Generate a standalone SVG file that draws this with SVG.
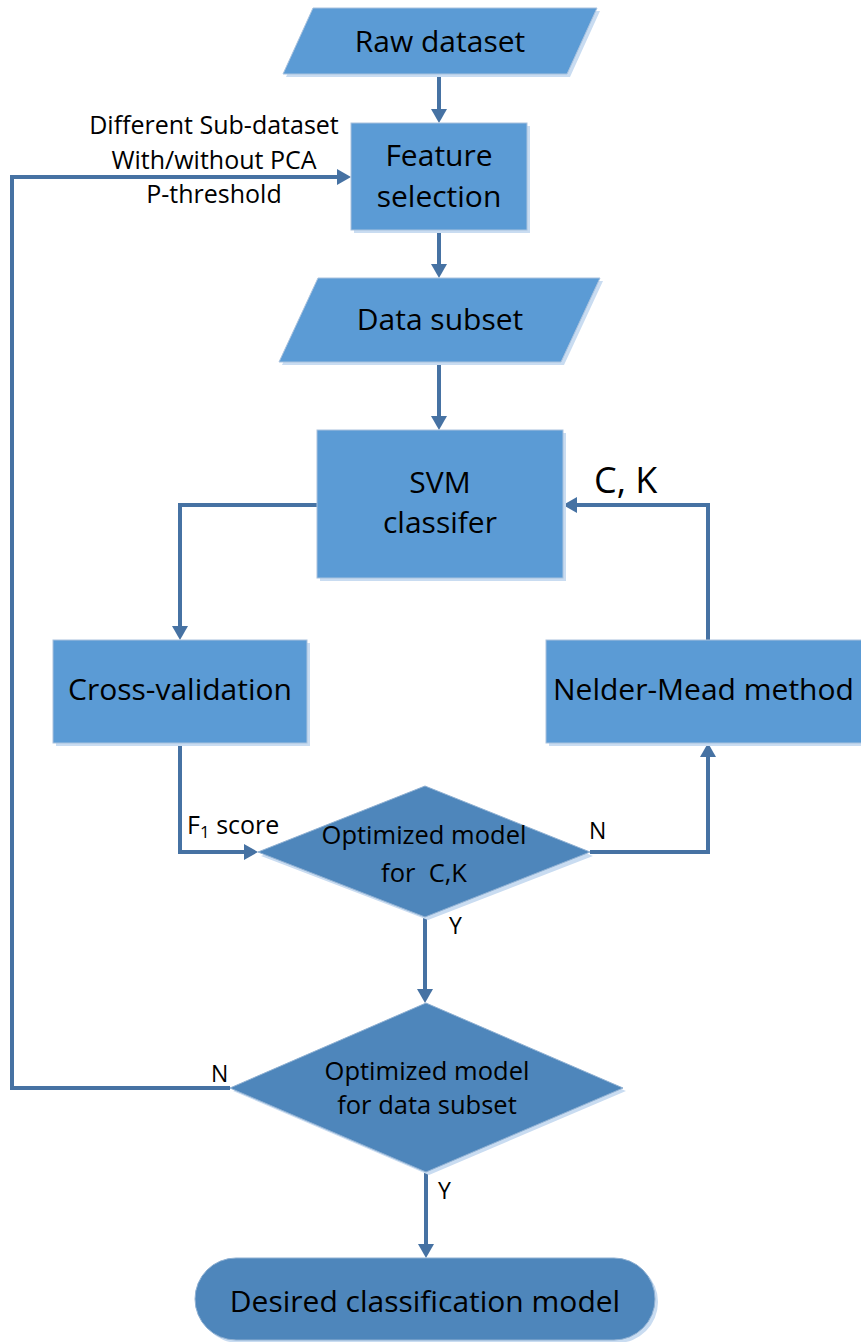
<svg xmlns="http://www.w3.org/2000/svg" width="861" height="1342" viewBox="0 0 861 1342">
<style>
.box{fill:#5B9BD5;stroke:#A9C2DE;stroke-width:1}
.dec{fill:#4E86BB;stroke:#8FB0D2;stroke-width:1}
.sh{fill:#C9DCF1}
.t{font-family:"Open Sans","Liberation Sans",sans-serif;font-size:30px;fill:#000}
.m{text-anchor:middle}
.s{font-family:"Open Sans","Liberation Sans",sans-serif;font-size:25px;fill:#000}
.d{font-family:"Open Sans","Liberation Sans",sans-serif;font-size:25.5px;fill:#000;text-anchor:middle;white-space:pre}
.c{fill:none;stroke:#4672A3;stroke-width:4}
</style>
<defs>
<marker id="ah" viewBox="0 0 14 16" refX="0" refY="8" markerWidth="14" markerHeight="16" markerUnits="userSpaceOnUse" orient="auto">
<path d="M0,0 L14,8 L0,16 z" fill="#4672A3"/>
</marker>
</defs>
<g id="connectors">
<path class="c" d="M439,74 V109" marker-end="url(#ah)"/>
<path class="c" d="M439,230 V264" marker-end="url(#ah)"/>
<path class="c" d="M439,362 V416" marker-end="url(#ah)"/>
<path class="c" d="M317,505 H180 V626" marker-end="url(#ah)"/>
<path class="c" d="M180,743 V852 H244" marker-end="url(#ah)"/>
<path class="c" d="M590,852 H708 V757" marker-end="url(#ah)"/>
<path class="c" d="M708,640 V505 H577" marker-end="url(#ah)"/>
<path class="c" d="M425,917 V989" marker-end="url(#ah)"/>
<path class="c" d="M230,1088 H12 V177 H337" marker-end="url(#ah)"/>
<path class="c" d="M426,1172 V1244" marker-end="url(#ah)"/>
<text class="s m" x="214" y="134">Different Sub-dataset</text>
<text class="s m" x="214" y="169">With/without PCA</text>
<text class="s m" x="214" y="203">P-threshold</text>
<text class="s" x="594" y="493" style="font-size:36px">C, K</text>
<text class="s" x="187" y="834">F<tspan font-size="17" dy="4">1</tspan><tspan dy="-4"> score</tspan></text>
<text class="s" x="589" y="839" style="font-size:23px">N</text>
<text class="s" x="449" y="934" style="font-size:23px">Y</text>
<text class="s" x="211" y="1082" style="font-size:23px">N</text>
<text class="s" x="438" y="1199" style="font-size:23px">Y</text>
</g>
<g id="raw">
<polygon class="sh" points="316,11 600,11 570,77 286,77"/>
<polygon class="box" points="313,8 597,8 567,74 283,74"/>
<text class="t m" x="440" y="52">Raw dataset</text>
</g>
<g id="feature">
<rect class="sh" x="354" y="126" width="176" height="107"/>
<rect class="box" x="351" y="123" width="176" height="107"/>
<text class="t m" x="439" y="166">Feature</text>
<text class="t m" x="439" y="207">selection</text>
</g>
<g id="subset">
<polygon class="sh" points="321,281 603,281 564,365 282,365"/>
<polygon class="box" points="318,278 600,278 561,362 279,362"/>
<text class="t m" x="440" y="330">Data subset</text>
</g>
<g id="svm">
<rect class="sh" x="320" y="433" width="246" height="148"/>
<rect class="box" x="317" y="430" width="246" height="148"/>
<text class="t m" x="440" y="493">SVM</text>
<text class="t m" x="440" y="533">classifer</text>
</g>
<g id="cv">
<rect class="sh" x="56" y="643" width="254" height="103"/>
<rect class="box" x="53" y="640" width="254" height="103"/>
<text class="t m" x="180" y="700">Cross-validation</text>
</g>
<g id="nm">
<rect class="sh" x="549" y="643" width="320" height="103"/>
<rect class="box" x="546" y="640" width="320" height="103"/>
<text class="t" x="553" y="700">Nelder-Mead method</text>
</g>
<g id="dec1">
<polygon class="sh" points="425,789 593,856 428,920 261,856"/>
<polygon class="dec" points="425,786 590,852 425,917 258,852"/>
<text class="d" x="424" y="844">Optimized model</text>
<text class="d" x="424" y="882">for  C,K</text>
</g>
<g id="dec2">
<polygon class="sh" points="426,1006 626,1091 429,1175 233,1091"/>
<polygon class="dec" points="426,1003 623,1088 426,1172 230,1088"/>
<text class="d" x="427" y="1080">Optimized model</text>
<text class="d" x="427" y="1114">for data subset</text>
</g>
<g id="desired">
<rect class="sh" x="198" y="1261" width="460" height="82" rx="41"/>
<rect class="dec" x="195" y="1258" width="460" height="82" rx="41"/>
<text class="t m" x="425" y="1312">Desired classification model</text>
</g>
</svg>
